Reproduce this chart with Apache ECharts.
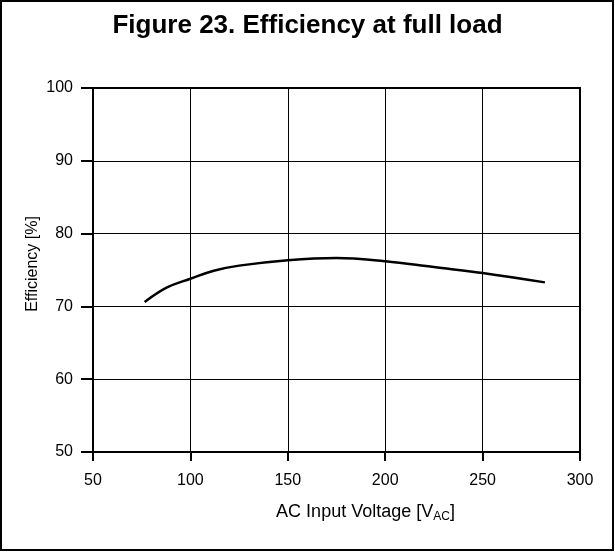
<!DOCTYPE html>
<html>
<head>
<meta charset="utf-8">
<script src="https://cdn.jsdelivr.net/npm/echarts@6/dist/echarts.min.js"></script>
<style>
  html, body { margin: 0; padding: 0; background: #fff; }
  #chart { width: 615px; height: 552px; }
</style>
</head>
<body>
<div id="chart"></div>
<script>
// values
var voltage = [76.5, 88, 100, 112, 125, 150, 175, 200, 225, 250, 282];
var efficiency = [70.6, 72.6, 73.8, 74.9, 75.6, 76.35, 76.65, 76.2, 75.4, 74.6, 73.3];
var title = "Figure 23. Efficiency at full load";

var font = "Liberation Sans, Arial, sans-serif";
var myChart = echarts.init(document.getElementById("chart"));

var opt = {
  animation: false,
  title: {
    text: title,
    left: "center",
    top: 8,
    textStyle: { fontFamily: font, fontSize: 26, fontWeight: "bold", color: "#000" }
  },
  grid: {
    left: 93,
    right: 35,
    top: 88,
    bottom: 100,
    show: true,
    borderColor: "#000",
    borderWidth: 2
  },
  xAxis: {
    type: "value",
    min: 50,
    max: 300,
    interval: 50,
    name: "{a|AC Input Voltage [V}{s|AC}{a|]}",
    nameLocation: "middle",
    nameGap: 49,
    nameTextStyle: {
      padding: [0, 0, 0, 58],
      rich: {
        a: { fontFamily: font, fontSize: 18, color: "#000" },
        s: { fontFamily: font, fontSize: 12, color: "#000", padding: [10, 0, 0, 0] }
      }
    },
    axisLine: { lineStyle: { color: "#000", width: 2 } },
    axisTick: { show: true, inside: false, length: 9, lineStyle: { color: "#000", width: 2 } },
    axisLabel: { fontFamily: font, fontSize: 16, color: "#000", margin: 21 },
    splitLine: { show: true, lineStyle: { color: "#000", width: 1 } }
  },
  yAxis: {
    type: "value",
    min: 50,
    max: 100,
    interval: 10,
    name: "Efficiency [%]",
    nameLocation: "middle",
    nameGap: 52,
    nameMoveOverlap: false,
    nameTextStyle: { fontFamily: font, fontSize: 16, color: "#000", padding: [0, 0, 0, 12] },
    axisLine: { show: true, lineStyle: { color: "#000", width: 2 } },
    axisTick: { show: true, inside: false, length: 12, lineStyle: { color: "#000", width: 2 } },
    axisLabel: { fontFamily: font, fontSize: 16, color: "#000", margin: 20 },
    splitLine: { show: true, lineStyle: { color: "#000", width: 1 } }
  },
  graphic: [
    {
      type: "rect",
      shape: { x: 1, y: 1, width: 612, height: 549 },
      style: { fill: "none", stroke: "#000", lineWidth: 2 },
      silent: true
    }
  ],
  series: [
    {
      type: "line",
      data: voltage.map(function (v, i) { return [v, efficiency[i]]; }),
      smooth: 0.4,
      showSymbol: false,
      lineStyle: { color: "#000", width: 2.5 }
    }
  ]
};
myChart.setOption(opt);
</script>
</body>
</html>
